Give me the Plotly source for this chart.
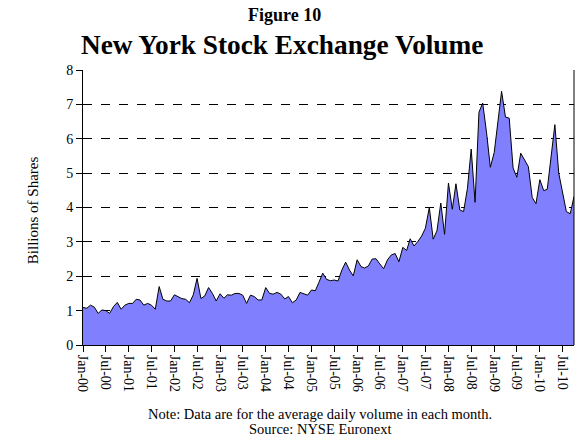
import pandas as pd
import plotly.graph_objects as go

# monthly average daily volume, billions of shares, Jan-2000 .. Oct-2010
months = pd.date_range("2000-01-01", "2010-10-01", freq="MS")
volume = [
    1.09, 1.07, 1.16, 1.10, 0.92, 1.02, 1.00, 0.92, 1.12, 1.24, 1.04, 1.16,   # 2000
    1.21, 1.21, 1.33, 1.31, 1.16, 1.21, 1.16, 1.04, 1.70, 1.33, 1.28, 1.28,   # 2001
    1.46, 1.39, 1.35, 1.33, 1.23, 1.46, 1.94, 1.35, 1.43, 1.67, 1.50, 1.28,   # 2002
    1.49, 1.36, 1.46, 1.45, 1.50, 1.50, 1.45, 1.21, 1.45, 1.41, 1.31, 1.31,   # 2003
    1.67, 1.50, 1.48, 1.53, 1.48, 1.34, 1.41, 1.23, 1.31, 1.53, 1.50, 1.45,   # 2004
    1.60, 1.58, 1.82, 2.09, 1.91, 1.87, 1.89, 1.86, 2.18, 2.41, 2.18, 2.01,   # 2005
    2.48, 2.28, 2.24, 2.30, 2.50, 2.51, 2.36, 2.22, 2.48, 2.62, 2.66, 2.42,   # 2006
    2.84, 2.75, 3.09, 2.88, 3.01, 3.17, 3.40, 4.00, 3.08, 3.32, 4.13, 3.22,   # 2007
    4.71, 3.95, 4.69, 3.93, 3.88, 4.56, 5.70, 4.15, 6.77, 7.04, 6.17, 5.17,   # 2008
    5.60, 6.46, 7.38, 6.63, 6.60, 5.15, 4.88, 5.58, 5.39, 5.19, 4.29, 4.11,   # 2009
    4.81, 4.49, 4.53, 5.58, 6.41, 5.00, 4.47, 3.88, 3.82, 4.32,               # 2010
]

SERIF = "Liberation Serif, Times New Roman, serif"

fig = go.Figure(go.Scatter(
    x=months,
    y=volume,
    mode="lines",
    line=dict(color="black", width=1),
    fill="tozeroy",
    fillcolor="#8080FF",
    hoverinfo="skip",
))


def note(text, x, y, size, angle=0):
    return dict(text=text, xref="paper", yref="paper", x=x, y=y,
                xanchor="center", yanchor="middle", textangle=angle,
                showarrow=False, font=dict(size=size))


fig.update_layout(
    width=579,
    height=440,
    paper_bgcolor="white",
    plot_bgcolor="white",
    font=dict(family=SERIF, size=13, color="black"),
    margin=dict(l=83, r=5, t=70, b=95),
    showlegend=False,
    xaxis=dict(
        range=[months[0], months[-1]],
        tick0="2000-01-01",
        dtick="M6",
        tickformat="%b-%y",
        tickangle=90,
        tickfont=dict(size=14),
        ticks="outside",
        ticklen=6,
        tickcolor="black",
        showline=True,
        linecolor="black",
        linewidth=1,
        showgrid=False,
        zeroline=False,
        automargin=False,
    ),
    yaxis=dict(
        range=[0, 8],
        dtick=1,
        ticks="outside",
        ticklen=6,
        tickcolor="black",
        tickfont=dict(size=14),
        showline=True,
        linecolor="black",
        linewidth=1,
        showgrid=True,
        gridcolor="black",
        griddash="dash",
        gridwidth=1,
        zeroline=False,
        automargin=False,
    ),
    shapes=[dict(type="line", xref="paper", yref="paper", x0=1, x1=1, y0=0, y1=1,
                 line=dict(color="black", width=1))],
    annotations=[
        note("<b>Figure 10</b>", 0.41, 1.2, 18),
        note("<b>New York Stock Exchange Volume</b>", 0.405, 1.09, 27.3),
        note("Billions of Shares", -0.102, 0.49, 15, angle=-90),
        note("Note: Data are for the average daily volume in each month.", 0.483, -0.25, 14.5),
        note("Source: NYSE Euronext", 0.483, -0.306, 14.5),
    ],
)

# page body has a default 8px margin; drop it so the figure sits at 0,0
fig.write_html("out.html", config={"displayModeBar": False},
               post_script="document.body.style.margin='0';")
